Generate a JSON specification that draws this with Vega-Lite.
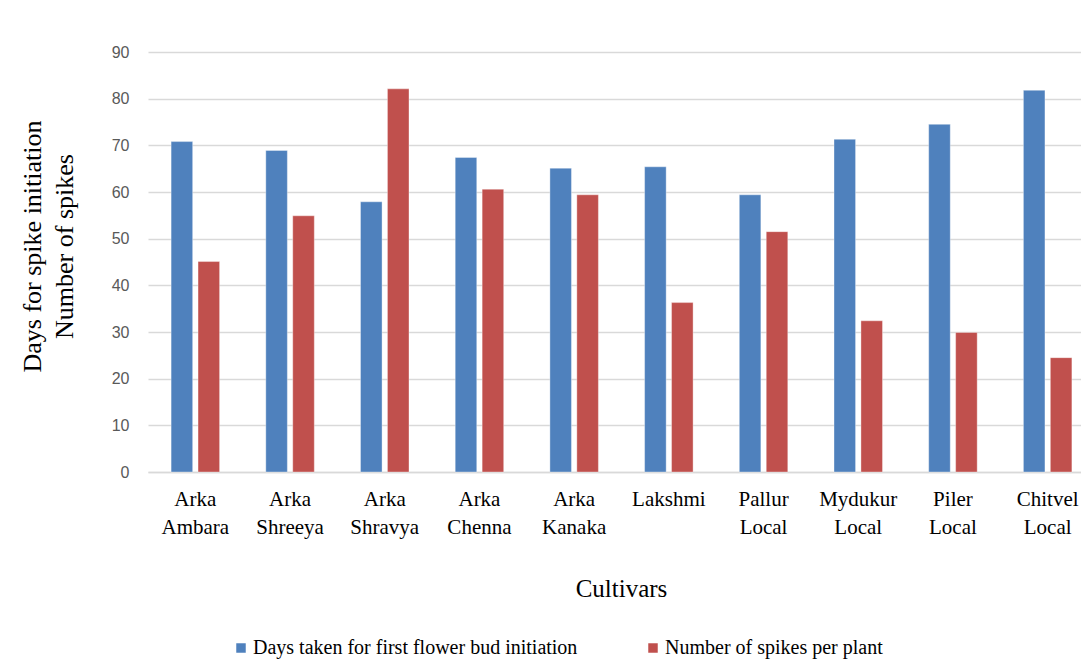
{
  "$schema": "https://vega.github.io/schema/vega-lite/v6.json",
  "autosize": {"type": "none"},
  "width": 933,
  "height": 420,
  "padding": {"left": 148, "top": 52, "right": 0, "bottom": 189},
  "background": "white",
  "data": {
    "values": [
      {"cultivar": "Arka Ambara", "series": "Days taken for first flower bud initiation", "value": 70.8},
      {"cultivar": "Arka Ambara", "series": "Number of spikes per plant", "value": 45.1},
      {"cultivar": "Arka Shreeya", "series": "Days taken for first flower bud initiation", "value": 68.9},
      {"cultivar": "Arka Shreeya", "series": "Number of spikes per plant", "value": 54.9},
      {"cultivar": "Arka Shravya", "series": "Days taken for first flower bud initiation", "value": 57.9},
      {"cultivar": "Arka Shravya", "series": "Number of spikes per plant", "value": 82.1},
      {"cultivar": "Arka Chenna", "series": "Days taken for first flower bud initiation", "value": 67.4},
      {"cultivar": "Arka Chenna", "series": "Number of spikes per plant", "value": 60.6},
      {"cultivar": "Arka Kanaka", "series": "Days taken for first flower bud initiation", "value": 65.1},
      {"cultivar": "Arka Kanaka", "series": "Number of spikes per plant", "value": 59.4},
      {"cultivar": "Lakshmi", "series": "Days taken for first flower bud initiation", "value": 65.4},
      {"cultivar": "Lakshmi", "series": "Number of spikes per plant", "value": 36.3},
      {"cultivar": "Pallur Local", "series": "Days taken for first flower bud initiation", "value": 59.4},
      {"cultivar": "Pallur Local", "series": "Number of spikes per plant", "value": 51.5},
      {"cultivar": "Mydukur Local", "series": "Days taken for first flower bud initiation", "value": 71.3},
      {"cultivar": "Mydukur Local", "series": "Number of spikes per plant", "value": 32.4},
      {"cultivar": "Piler Local", "series": "Days taken for first flower bud initiation", "value": 74.5},
      {"cultivar": "Piler Local", "series": "Number of spikes per plant", "value": 29.9},
      {"cultivar": "Chitvel Local", "series": "Days taken for first flower bud initiation", "value": 81.8},
      {"cultivar": "Chitvel Local", "series": "Number of spikes per plant", "value": 24.5}
    ]
  },
  "mark": {"type": "bar", "stroke": "#ffffff", "strokeWidth": 0.6, "strokeOpacity": 0.6},
  "encoding": {
    "x": {
      "field": "cultivar",
      "type": "nominal",
      "sort": null,
      "scale": {"range": [0, 947], "paddingInner": 0.488, "paddingOuter": 0.244},
      "axis": {
        "title": "Cultivars",
        "titleFont": "Liberation Serif",
        "titleFontSize": 25,
        "titleFontWeight": "normal",
        "titleColor": "#000000",
        "titleX": 473,
        "titleY": 104,
        "labelAngle": 0,
        "labelExpr": "split(datum.label, ' ')",
        "labelFont": "Liberation Serif",
        "labelFontSize": 21,
        "labelColor": "#000000",
        "labelLineHeight": 28,
        "labelPadding": 16,
        "labelBaseline": "top",
        "ticks": false,
        "domainColor": "#d9d9d9",
        "domainWidth": 1.3,
        "grid": false
      }
    },
    "xOffset": {
      "field": "series",
      "type": "nominal",
      "scale": {"paddingInner": 0.2, "paddingOuter": 0}
    },
    "y": {
      "field": "value",
      "type": "quantitative",
      "scale": {"domain": [0, 90], "nice": false},
      "axis": {
        "title": ["Days for spike initiation", "Number of spikes"],
        "titleFont": "Liberation Serif",
        "titleFontSize": 26,
        "titleFontWeight": "normal",
        "titleColor": "#000000",
        "titleLineHeight": 32,
        "titleX": -103,
        "titleY": 194,
        "titleAlign": "center",
        "titleAngle": -90,
        "values": [0, 10, 20, 30, 40, 50, 60, 70, 80, 90],
        "labelFont": "Liberation Sans",
        "labelFontSize": 16,
        "labelColor": "#595959",
        "labelPadding": 19,
        "ticks": false,
        "domain": false,
        "gridColor": "#d9d9d9",
        "gridWidth": 1.3
      }
    },
    "color": {
      "field": "series",
      "type": "nominal",
      "scale": {"range": ["#4f81bd", "#c0504d"]},
      "legend": {
        "title": null,
        "orient": "none",
        "direction": "horizontal",
        "legendX": 83,
        "legendY": 586,
        "symbolType": "square",
        "symbolSize": 90,
        "symbolStrokeWidth": 0,
        "labelFont": "Liberation Serif",
        "labelFontSize": 20,
        "labelColor": "#000000",
        "labelOffset": 2,
        "columnPadding": 65,
        "labelLimit": 500
      }
    }
  },
  "config": {"view": {"stroke": null}}
}
